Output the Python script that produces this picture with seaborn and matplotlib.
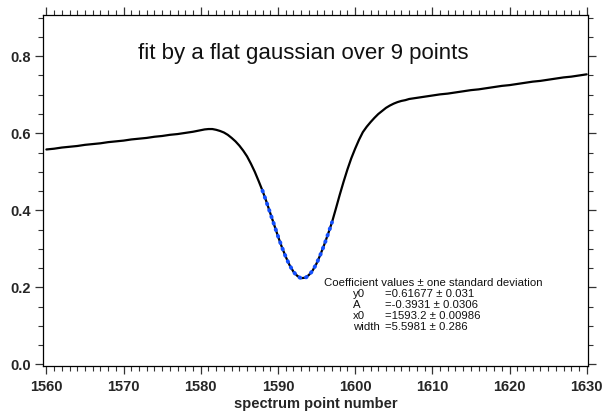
import numpy as np
import pandas as pd
import matplotlib
matplotlib.use("Agg")
import matplotlib.pyplot as plt
from matplotlib.colors import to_hex
from matplotlib.ticker import MultipleLocator, FormatStrFormatter
import seaborn as sns

# Measured spectrum (half-point sampling around the absorption dip)
point_number = (list(range(1560, 1579))
                + [1579 + 0.5 * i for i in range(57)]
                + list(range(1608, 1631)))
intensity = [
    # 1560-1578
    0.558, 0.560, 0.563, 0.565, 0.567, 0.570, 0.572, 0.574, 0.577, 0.579,
    0.581, 0.584, 0.586, 0.588, 0.591, 0.593, 0.596, 0.598, 0.601,
    # 1579-1607, step 0.5
    0.604, 0.606, 0.608, 0.610, 0.611, 0.611, 0.609, 0.606, 0.602, 0.596,
    0.588, 0.579, 0.568, 0.555, 0.540, 0.521, 0.500, 0.476, 0.451, 0.423,
    0.393, 0.363, 0.333, 0.305, 0.280, 0.258, 0.241, 0.230, 0.224, 0.225,
    0.232, 0.244, 0.262, 0.285, 0.311, 0.339, 0.369, 0.404, 0.440, 0.474,
    0.506, 0.535, 0.560, 0.583, 0.603, 0.617, 0.629, 0.640, 0.650, 0.658,
    0.666, 0.672, 0.677, 0.681, 0.684, 0.686, 0.689,
    # 1608-1630
    0.692, 0.695, 0.698, 0.701, 0.703, 0.706, 0.709, 0.712, 0.714, 0.717,
    0.720, 0.723, 0.725, 0.728, 0.731, 0.734, 0.736, 0.739, 0.742, 0.745,
    0.747, 0.750, 0.753,
]

# Flat gaussian fit coefficients: y0 + A*exp(-((x-x0)/width)^2)
coef_names = ["y0", "A", "x0", "width"]
coef_values = [0.61677, -0.3931, 1593.2, 5.5981]
coef_text = ["0.61677", "-0.3931", "1593.2", "5.5981"]
sigma_text = ["0.031", "0.0306", "0.00986", "0.286"]
fit_range = (1588.0, 1597.0)

y0, A, x0, w = coef_values
fit_x = np.linspace(fit_range[0], fit_range[1], 200)
fit_y = y0 + A * np.exp(-((fit_x - x0) / w) ** 2)

spectrum = pd.DataFrame({"point": point_number, "value": intensity})
fit = pd.DataFrame({"point": fit_x, "value": fit_y})

FIT_COLOR = "#1450ff"

sns.set_theme(style="ticks")
plt.rcParams["font.family"] = ["Liberation Sans", "DejaVu Sans"]
plt.rcParams["lines.dash_capstyle"] = "round"

fig = plt.figure(figsize=(6.03, 4.17), dpi=100)
ax = fig.add_axes([43.3 / 603, 51 / 417, (588 - 43.3) / 603, (366 - 15) / 417])

sns.lineplot(data=spectrum, x="point", y="value", ax=ax, color="black",
             linewidth=1.6, sort=False, estimator=None)
sns.lineplot(data=fit, x="point", y="value", ax=ax, color=FIT_COLOR,
             linewidth=2.8, sort=False, estimator=None)

# dotted style for the fit curve
for ln in ax.get_lines():
    if to_hex(ln.get_color()) == FIT_COLOR:
        ln.set_dashes([0.2, 1.55])
        ln.set_dash_capstyle("round")
        ln.set_zorder(3)

ax.set_xlim(1559.6, 1630.17)
ax.set_ylim(-0.004, 0.907)

for side in ["top", "right", "left", "bottom"]:
    ax.spines[side].set_visible(True)
    ax.spines[side].set_color("black")
    ax.spines[side].set_linewidth(0.9)

ax.xaxis.set_major_locator(MultipleLocator(10))
ax.xaxis.set_minor_locator(MultipleLocator(1))
ax.yaxis.set_major_locator(MultipleLocator(0.2))
ax.yaxis.set_minor_locator(MultipleLocator(0.05))
ax.yaxis.set_major_formatter(FormatStrFormatter("%.1f"))

ax.tick_params(axis="both", which="both", direction="out", color="#333333",
               top=True, right=True, labeltop=False, labelright=False)
ax.tick_params(axis="x", which="major", length=6, width=0.9, pad=4,
               labelsize=10.5)
ax.tick_params(axis="x", which="minor", length=3.5, width=0.8)
ax.tick_params(axis="y", which="major", length=6, width=0.9, pad=3,
               labelsize=10.5)
ax.tick_params(axis="y", which="minor", length=3.5, width=0.8)
for lab in ax.get_xticklabels() + ax.get_yticklabels():
    lab.set_fontweight("bold")

ax.set_xlabel("spectrum point number", fontsize=10.5, fontweight="bold", labelpad=2)
ax.set_ylabel("")

ax.text(0.477, 0.875, "fit by a flat gaussian over 9 points", transform=ax.transAxes,
        ha="center", va="baseline", fontsize=16, color="#111111")

# Coefficient table
fs = 8.2
fig.text(324 / 603, 1 - 283.5 / 417, "Coefficient values \u00b1 one standard deviation",
         fontsize=fs, va="center", ha="left", color="#111111")
for i, name in enumerate(coef_names):
    yy = 1 - (294 + 10.9 * i) / 417
    fig.text(353 / 603, yy, name, fontsize=fs, va="center", ha="left", color="#111111")
    fig.text(385 / 603, yy, "=" + coef_text[i] + " \u00b1 " + sigma_text[i],
             fontsize=fs, va="center", ha="left", color="#111111")

fig.savefig("out.png", dpi=100)
